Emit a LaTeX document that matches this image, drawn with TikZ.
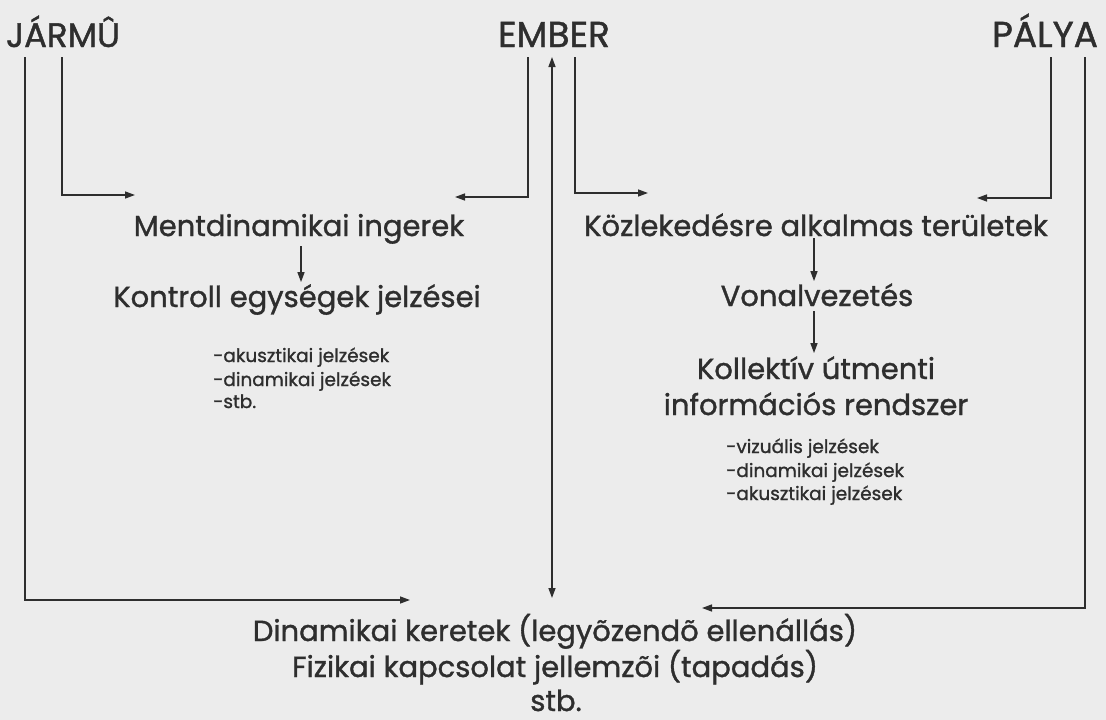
\documentclass[tikz,border=0pt]{standalone}
\usepackage{fontspec}
\setmainfont{Poppins}[FakeBold=1.2]
\usetikzlibrary{arrows.meta}
\definecolor{ink}{HTML}{2E2E2E}
\definecolor{paper}{HTML}{ECECEC}
\begin{document}
\begin{tikzpicture}[x=1pt,y=-1pt,
  head/.style={text=ink,font=\fontsize{36}{42}\selectfont,inner sep=0pt,anchor=base},
  item/.style={text=ink,font=\fontsize{29}{34}\selectfont,inner sep=0pt,anchor=base},
  subitem/.style={text=ink,font=\fontsize{18.5}{22}\selectfont,inner sep=0pt,anchor=base west},
  link/.style={draw=ink,line width=1.4pt,-{Triangle[length=10pt,width=7pt]}},
  both/.style={draw=ink,line width=1.4pt,{Triangle[length=10pt,width=7pt]}-{Triangle[length=10pt,width=7pt]}},
  ]
\fill[paper] (0,0) rectangle (1106,720);
\useasboundingbox (0,0) rectangle (1106,720);

% the three factors
\node[head,font=\fontsize{34}{40}\selectfont] (jarmu) at (63,47) {JÁRMÛ};
\node[head] (ember) at (554,47) {EMBER};
\node[head] (palya) at (1045,47) {PÁLYA};

% left column
\node[item] (ment) at (299,236) {Mentdinamikai ingerek};
\node[item] (kontroll) at (297,307) {Kontroll egységek jelzései};
\node[subitem] (k1) at (213,362) {-akusztikai jelzések};
\node[subitem] (k2) at (213,386) {-dinamikai jelzések};
\node[subitem] (k3) at (213,408) {-stb.};

% right column
\node[item] (kozl) at (816,236) {Közlekedésre alkalmas területek};
\node[item] (vonal) at (817,306) {Vonalvezetés};
\node[item] (koll) at (816,379) {Kollektív útmenti};
\node[item] (info) at (816,415) {információs rendszer};
\node[subitem] (p1) at (726,453) {-vizuális jelzések};
\node[subitem] (p2) at (726,477) {-dinamikai jelzések};
\node[subitem] (p3) at (726,500) {-akusztikai jelzések};

% bottom block
\node[item] (din) at (555,641) {Dinamikai keretek (legyõzendõ ellenállás)};
\node[item] (fiz) at (555,677) {Fizikai kapcsolat jellemzõi (tapadás)};
\node[item] (stb) at (556,711) {stb.};

% line origins under the headings
\coordinate (jOut) at (25,57);
\coordinate (jIn) at (62,57);
\coordinate (eL) at (528,57);
\coordinate (eM) at (552,57);
\coordinate (eR) at (575,57);
\coordinate (pIn) at (1051,57);
\coordinate (pOut) at (1085,57);

% arrow tips
\coordinate (mentA) at (135,195);
\coordinate (mentB) at (455,197);
\coordinate (kozlA) at (648,193);
\coordinate (kozlB) at (977,198);
\coordinate (dinL) at (410,600);
\coordinate (dinR) at (702,608);
\coordinate (dinM) at (552,598);

\draw[link] (jIn) |- (mentA);
\draw[link] (eL) |- (mentB);
\draw[link] (eR) |- (kozlA);
\draw[link] (pIn) |- (kozlB);
\draw[link] (jOut) |- (dinL);
\draw[link] (pOut) |- (dinR);
\draw[both] (eM) -- (dinM);

\draw[link] (ment.south -| 301,0) ++(0,2) -- ([yshift=2pt]kontroll.north -| 301,0);
\draw[link] (kozl.south -| 814,0) ++(0,2) -- ([yshift=2pt]vonal.north -| 814,0);
\draw[link] (vonal.south -| 814,0) ++(0,5) -- ([yshift=3pt]koll.north -| 814,0);
\end{tikzpicture}
\end{document}
